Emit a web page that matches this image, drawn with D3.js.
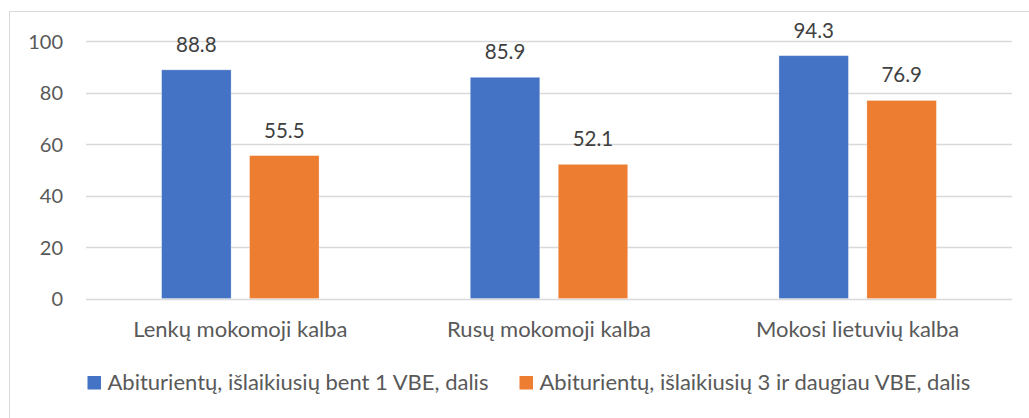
<!DOCTYPE html>
<html>
<head>
<meta charset="utf-8">
<script src="https://cdn.jsdelivr.net/npm/d3@7"></script>
<style>
  body { margin: 0; background: #fff; }
  svg text { font-family: Lato, "Noto Sans", sans-serif; }
</style>
</head>
<body>
<svg id="chart" width="1029" height="418"></svg>
<script>
// chart data
let categories = ['Lenkų mokomoji kalba', 'Rusų mokomoji kalba', 'Mokosi lietuvių kalba'];
let series_names = ['Abiturientų, išlaikiusių bent 1 VBE, dalis', 'Abiturientų, išlaikiusių 3 ir daugiau VBE, dalis'];
let series_bent1 = [88.8, 85.9, 94.3];
let series_3plus = [55.5, 52.1, 76.9];
let y_ticks = [0, 20, 40, 60, 80, 100];
let colors = ['#4472c4', '#ed7d31'];

let svg = d3.select('#chart');
let width = 1029, height = 418;
let plot_left = 86, plot_right = 1012;
let plot_top = 41, plot_bottom = 298.5;

// outer frame (clipped at right / bottom like the source)
svg.append('rect')
  .attr('x', 9.5).attr('y', 11.5)
  .attr('width', width + 20).attr('height', height + 20)
  .attr('fill', 'none').attr('stroke', '#d9d9d9').attr('stroke-width', 1);

let x0 = d3.scaleBand().domain(categories).range([plot_left, plot_right]).padding(0);
let bw = x0.bandwidth();
let x1 = d3.scaleBand().domain([0, 1])
  .range([bw * 0.245, bw * 0.755]).paddingInner(0.21).paddingOuter(0);
let y = d3.scaleLinear().domain([0, 100]).range([plot_bottom, plot_top]);

// gridlines
svg.append('g').selectAll('line').data(y_ticks).enter().append('line')
  .attr('x1', plot_left).attr('x2', plot_right)
  .attr('y1', d => Math.round(y(d)) + 0.5).attr('y2', d => Math.round(y(d)) + 0.5)
  .attr('stroke', '#d9d9d9').attr('stroke-width', 1.3);

// y tick labels
svg.append('g').selectAll('text').data(y_ticks).enter().append('text')
  .attr('x', plot_left - 23).attr('y', d => y(d) + 7.5)
  .attr('text-anchor', 'end').attr('font-size', 20).attr('fill', '#595959')
  .text(d => d);

let rows = categories.map((c, i) => ({cat: c, vals: [series_bent1[i], series_3plus[i]]}));

let groups = svg.append('g').selectAll('.grp').data(rows).enter().append('g')
  .attr('class', 'grp')
  .attr('transform', d => 'translate(' + x0(d.cat) + ',0)');

groups.selectAll('rect').data(d => d.vals.map((v, k) => ({k: k, v: v}))).enter().append('rect')
  .attr('x', d => x1(d.k)).attr('width', x1.bandwidth())
  .attr('y', d => y(d.v)).attr('height', d => plot_bottom - y(d.v))
  .attr('fill', d => colors[d.k])
  .attr('stroke', '#fff').attr('stroke-opacity', 0.35).attr('stroke-width', 0.8);

groups.selectAll('text').data(d => d.vals.map((v, k) => ({k: k, v: v}))).enter().append('text')
  .attr('x', d => x1(d.k) + x1.bandwidth() / 2).attr('y', d => y(d.v) - 18)
  .attr('text-anchor', 'middle').attr('font-size', 20.5).attr('fill', '#404040')
  .text(d => d.v.toFixed(1));

// category labels
svg.append('g').selectAll('text').data(categories).enter().append('text')
  .attr('x', d => x0(d) + bw / 2).attr('y', 336.5)
  .attr('text-anchor', 'middle').attr('font-size', 22).attr('fill', '#595959')
  .text(d => d);

// legend
let legend_x = [87.5, 519.5];
let legend = svg.append('g').selectAll('g').data(series_names).enter().append('g')
  .attr('transform', (d, i) => 'translate(' + legend_x[i] + ',376)');
legend.append('rect').attr('width', 13.5).attr('height', 13.5).attr('fill', (d, i) => colors[i]);
legend.append('text').attr('x', 20).attr('y', 14)
  .attr('font-size', 22).attr('fill', '#595959').text(d => d);
</script>
</body>
</html>
